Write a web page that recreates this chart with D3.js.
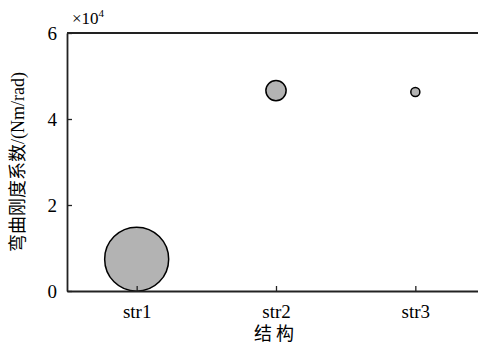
<!DOCTYPE html>
<html>
<head>
<meta charset="utf-8">
<script src="https://cdn.jsdelivr.net/npm/d3@7"></script>
</head>
<body style="margin:0">
<script>
var svgWidth = 478;
var svgHeight = 345;

// chart values
var categories = ["str1", "str2", "str3"];
var stiffness = [7400, 46600, 46300];   // Nm/rad
var bubbleSize = [1000, 100, 20];        // relative marker size
var yTicks = [0, 2, 4, 6];               // in units of 10^4

var margin = { top: 33, right: -7, bottom: 54, left: 67 };
var width = svgWidth - margin.left - margin.right;
var height = svgHeight - margin.top - margin.bottom;

var svg = d3.select("body")
    .append("svg")
    .attr("width", svgWidth)
    .attr("height", svgHeight)
    .style("display", "block");

var chart = svg.append("g")
    .attr("transform", "translate(" + margin.left + "," + margin.top + ")");

var xScale = d3.scaleLinear()
    .domain([0.5, categories.length + 0.5])
    .range([0, width]);

var yScale = d3.scaleLinear()
    .domain([0, 6e4])
    .range([height, 0]);

var rScale = d3.scaleSqrt()
    .domain([0, d3.max(bubbleSize)])
    .range([0, 32]);

// bubbles
chart.selectAll("circle")
    .data(categories)
    .enter()
    .append("circle")
    .attr("cx", (d, i) => xScale(i + 1))
    .attr("cy", (d, i) => yScale(stiffness[i]))
    .attr("r", (d, i) => rScale(bubbleSize[i]))
    .attr("fill", "#b3b3b3")
    .attr("stroke", "#000")
    .attr("stroke-width", 1.5);

// axes, ticks pointing inward
var bottomAxis = d3.axisBottom(xScale)
    .tickValues(d3.range(1, categories.length + 1))
    .tickFormat(d => categories[d - 1])
    .tickSizeInner(-5)
    .tickSizeOuter(0)
    .tickPadding(14);

var leftAxis = d3.axisLeft(yScale)
    .tickValues(yTicks.map(t => t * 1e4))
    .tickFormat(d => d / 1e4)
    .tickSizeInner(-5)
    .tickSizeOuter(0)
    .tickPadding(10);

var xAxisG = chart.append("g")
    .attr("transform", `translate(0, ${height})`)
    .call(bottomAxis);

var yAxisG = chart.append("g")
    .call(leftAxis);

[xAxisG, yAxisG].forEach(g => {
    g.attr("font-family", "Times New Roman").attr("font-size", 19);
    g.select(".domain").attr("stroke", "#222").attr("stroke-width", 1.8);
    g.selectAll(".tick line").attr("stroke", "#222").attr("stroke-width", 1.3);
    g.selectAll(".tick text")
        .attr("fill", "#000")
        .attr("font-family", "Times New Roman")
        .style("font-family", "'Times New Roman'")
        .style("font-size", "19px");
});

// top border line
chart.append("line")
    .attr("x1", 0)
    .attr("x2", width)
    .attr("y1", 0)
    .attr("y2", 0)
    .attr("stroke", "#222")
    .attr("stroke-width", 1.8);

// exponent label
var expText = chart.append("text")
    .attr("x", 5)
    .attr("y", -9)
    .attr("font-family", "Times New Roman")
    .style("font-family", "'Times New Roman'")
    .style("font-size", "17px");
expText.append("tspan").text("×10");
expText.append("tspan")
    .attr("dy", -7)
    .style("font-size", "11px")
    .text("4");

// y axis title
chart.append("text")
    .attr("transform", "rotate(-90)")
    .attr("x", -height / 2)
    .attr("y", -margin.left + 24)
    .attr("text-anchor", "middle")
    .style("font-family", "'Times New Roman', 'Noto Sans CJK SC'")
    .style("font-size", "18px")
    .text("弯曲刚度系数/(Nm/rad)");

// x axis title
chart.append("text")
    .attr("x", width / 2)
    .attr("y", height + 49)
    .attr("text-anchor", "middle")
    .style("font-family", "'Times New Roman', 'Noto Sans CJK SC'")
    .style("font-size", "18px")
    .style("letter-spacing", "4px")
    .text("结构");
</script>
</body>
</html>
